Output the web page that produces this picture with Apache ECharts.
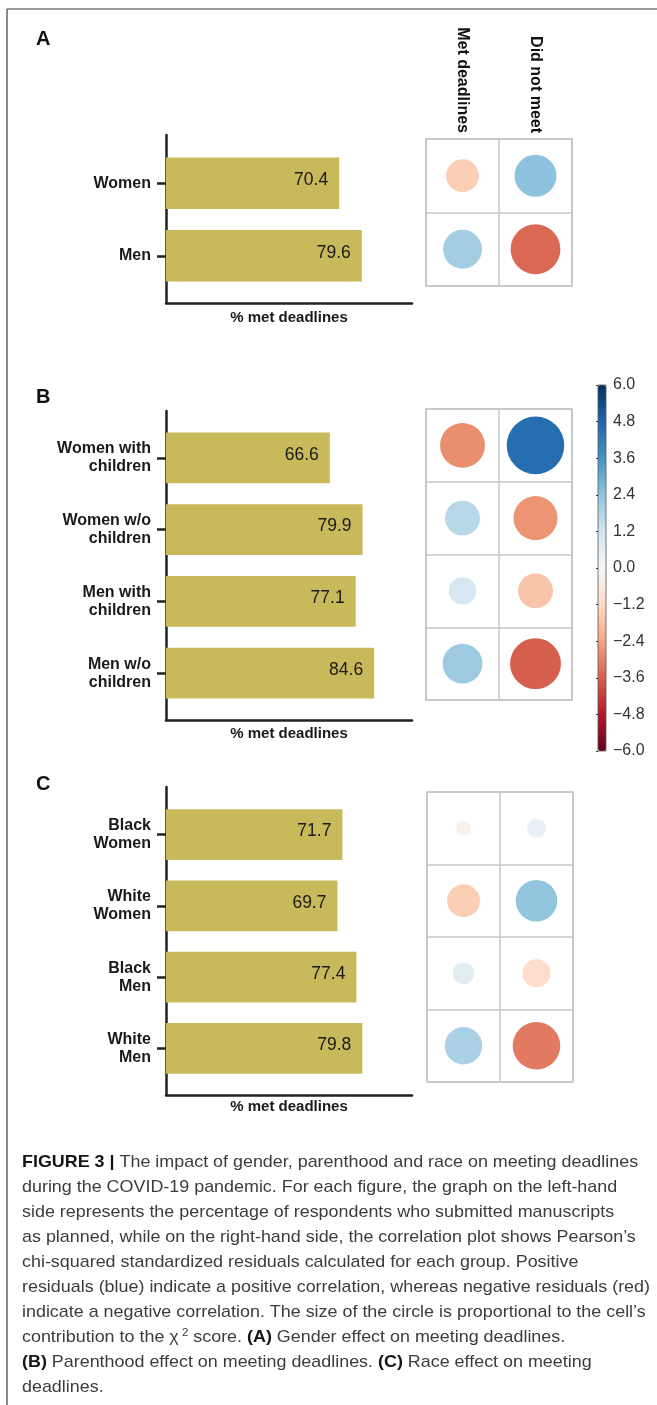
<!DOCTYPE html>
<html>
<head>
<meta charset="utf-8">
<script src="https://cdn.jsdelivr.net/npm/echarts@6.0.0/dist/echarts.min.js"></script>
<style>
html,body{margin:0;padding:0;background:#fff;}
#chart{width:657px;height:1405px;}
</style>
</head>
<body>
<div id="chart"></div>
<script>
// ---------------- data ----------------
const catsA = ['Women', 'Men'];
const valsA = [70.4, 79.6];
const catsB = ['Women with\nchildren', 'Women w/o\nchildren', 'Men with\nchildren', 'Men w/o\nchildren'];
const valsB = [66.6, 79.9, 77.1, 84.6];
const catsC = ['Black\nWomen', 'White\nWomen', 'Black\nMen', 'White\nMen'];
const valsC = [71.7, 69.7, 77.4, 79.8];
const corrCols = ['Met deadlines', 'Did not meet'];
// Pearson chi-squared standardized residuals: rows = groups, cols = [Met, Did not meet]
const residA = [[-1.5, 2.45], [2.1, -3.45]];
const residB = [[-2.8, 4.6], [1.7, -2.7], [1.05, -1.7], [2.2, -3.6]];
const residC = [[-0.3, 0.5], [-1.5, 2.4], [0.65, -1.1], [1.95, -3.15]];
const scaleMin = -6, scaleMax = 6, scaleStep = 1.2;
const xLabel = '% met deadlines';
const panelLetters = ['A', 'B', 'C'];
const captionLines = [
  [['FIGURE 3 |', 'b'], [' The impact of gender, parenthood and race on meeting deadlines', 'n']],
  [['during the COVID-19 pandemic. For each figure, the graph on the left-hand', 'n']],
  [['side represents the percentage of respondents who submitted manuscripts', 'n']],
  [['as planned, while on the right-hand side, the correlation plot shows Pearson\u2019s', 'n']],
  [['chi-squared standardized residuals calculated for each group. Positive', 'n']],
  [['residuals (blue) indicate a positive correlation, whereas negative residuals (red)', 'n']],
  [['indicate a negative correlation. The size of the circle is proportional to the cell\u2019s', 'n']],
  [['contribution to the \u03c7', 'n'], ['2', 'sup'], [' score. ', 'n'], ['(A)', 'b'], [' Gender effect on meeting deadlines.', 'n']],
  [['(B)', 'b'], [' Parenthood effect on meeting deadlines. ', 'n'], ['(C)', 'b'], [' Race effect on meeting', 'n']],
  [['deadlines.', 'n']]
];

// ---------------- layout / style ----------------
const FONT = '"Liberation Sans", Arial, Helvetica, sans-serif';
const RdBu = ['#67001f','#b2182b','#d6604d','#f4a582','#fddbc7','#f7f7f7','#d1e5f0','#92c5de','#4393c3','#2166ac','#053061'];
const BAR_COLOR = '#c8b95b';
const AX = '#222222';
const CELL = 73;
const panels = [
  { cats: catsA, vals: valsA, resid: residA, frameTop: 135, frameBottom: 303, barTop: 147, barH: 145,
    corr: { left: 426, top: 139, width: 146, height: 147 }, nameGap: 7, letterY: 39, colLabels: true },
  { cats: catsB, vals: valsB, resid: residB, frameTop: 411, frameBottom: 720, barTop: 422, barH: 287,
    corr: { left: 426, top: 409, width: 146, height: 291 }, nameGap: 6, letterY: 397, colLabels: false },
  { cats: catsC, vals: valsC, resid: residC, frameTop: 787, frameBottom: 1095, barTop: 799, barH: 285,
    corr: { left: 427, top: 792, width: 146, height: 290 }, nameGap: 4, letterY: 784, colLabels: false }
];
const BAR_LEFT = 166, BAR_W = 246;

const grid = [], xAxis = [], yAxis = [], series = [], graphic = [];
const scatterIdx = [];

panels.forEach((p, i) => {
  const gF = grid.length;
  grid.push({ left: BAR_LEFT, width: BAR_W, top: p.frameTop, height: p.frameBottom - p.frameTop });
  xAxis.push({ gridIndex: gF, type: 'value', min: 0, max: 100,
    axisLine: { show: true, lineStyle: { color: AX, width: 2.5 } },
    axisTick: { show: false }, axisLabel: { show: false }, splitLine: { show: false },
    name: xLabel, nameLocation: 'middle', nameGap: p.nameGap,
    nameTextStyle: { fontFamily: FONT, fontWeight: 'bold', fontSize: 15, color: '#1a1a1a', verticalAlign: 'top' } });
  yAxis.push({ gridIndex: gF, type: 'value', min: 0, max: 1,
    axisLine: { show: true, lineStyle: { color: AX, width: 2.5 } },
    axisTick: { show: false }, axisLabel: { show: false }, splitLine: { show: false } });

  const gB = grid.length;
  grid.push({ left: BAR_LEFT, width: BAR_W, top: p.barTop, height: p.barH });
  xAxis.push({ gridIndex: gB, type: 'value', min: 0, max: 100, show: false });
  yAxis.push({ gridIndex: gB, type: 'category', data: p.cats, inverse: true,
    axisLine: { show: false },
    axisTick: { show: true, alignWithLabel: true, length: 9, lineStyle: { color: AX, width: 2.5 } },
    axisLabel: { fontFamily: FONT, fontWeight: 'bold', fontSize: 16, lineHeight: 18, color: '#1a1a1a', margin: 15, align: 'right', interval: 0 },
    splitLine: { show: false } });
  series.push({ type: 'bar', xAxisIndex: gB, yAxisIndex: gB, data: p.vals, barWidth: '71%',
    itemStyle: { color: BAR_COLOR }, silent: true,
    label: { show: true, position: 'insideRight', distance: 11, offset: [0, -3],
      fontFamily: FONT, fontSize: 17.5, color: '#1a1a1a',
      formatter: (d) => d.value.toFixed(1) } });

  const gC = grid.length;
  grid.push(Object.assign({ show: true, borderColor: '#c6c6c6', borderWidth: 1.5, backgroundColor: 'transparent' }, p.corr));
  xAxis.push({ gridIndex: gC, type: 'category', data: corrCols, position: 'top',
    axisLine: { show: false }, axisTick: { show: false },
    axisLabel: { show: p.colLabels, rotate: 90, interval: 0, margin: 6,
      fontFamily: FONT, fontWeight: 'bold', fontSize: 16, color: '#111' },
    splitLine: { show: true, interval: 0, lineStyle: { color: '#c6c6c6', width: 1.5 } } });
  yAxis.push({ gridIndex: gC, type: 'category', data: p.cats, inverse: true,
    axisLine: { show: false }, axisTick: { show: false }, axisLabel: { show: false },
    splitLine: { show: true, interval: 0, lineStyle: { color: '#c6c6c6', width: 1.5 } } });
  const sdata = [];
  p.resid.forEach((row, r) => row.forEach((v, c) => sdata.push([c, r, v])));
  scatterIdx.push(series.length);
  series.push({ type: 'scatter', xAxisIndex: gC, yAxisIndex: gC, data: sdata, silent: true,
    symbol: 'circle',
    symbolSize: (d) => CELL * 0.9 * Math.sqrt(Math.abs(d[2]) / scaleMax),
    itemStyle: { opacity: 1 } });

  graphic.push({ type: 'text', x: 36, y: p.letterY,
    style: { text: panelLetters[i], font: 'bold 20px ' + FONT, fill: '#111', verticalAlign: 'middle', align: 'left' } });
});

// colorbar tick axis
const gCB = grid.length;
grid.push({ left: 598, width: 8, top: 385, height: 366, show: true, borderColor: '#555', borderWidth: 0.8, backgroundColor: 'transparent', z: 10 });
xAxis.push({ gridIndex: gCB, type: 'value', show: false, min: 0, max: 1 });
yAxis.push({ gridIndex: gCB, type: 'value', position: 'right', min: scaleMin, max: scaleMax, interval: scaleStep,
  axisLine: { show: false },
  axisTick: { show: true, inside: true, length: 2, lineStyle: { color: '#333', width: 1 } },
  axisLabel: { margin: 7, fontFamily: FONT, fontSize: 16, color: '#333',
    formatter: (v) => Math.abs(v) < 1e-9 ? '0.0' : (v < 0 ? '\u2212' : '') + Math.abs(v).toFixed(1) },
  splitLine: { show: false } });

// frame
graphic.push({ type: 'line', shape: { x1: 7, y1: 9, x2: 657, y2: 9 }, style: { stroke: '#3a3a3a', lineWidth: 1.2 } });
graphic.push({ type: 'line', shape: { x1: 7, y1: 9, x2: 7, y2: 1405 }, style: { stroke: '#3a3a3a', lineWidth: 1.2 } });

// caption
const CAP_SIZE = 17;
const capStyles = {
  n: { font: CAP_SIZE + 'px ' + FONT },
  b: { font: 'bold ' + CAP_SIZE + 'px ' + FONT },
  sup: { font: '11px ' + FONT }
};
const mctx = document.createElement('canvas').getContext('2d');
function lineWidth(segs) {
  let w = 0;
  segs.forEach(([t, s]) => { mctx.font = capStyles[s].font; w += mctx.measureText(t).width + (s === 'sup' ? 3 : 0); });
  return w;
}
const maxCapW = Math.max.apply(null, captionLines.map(lineWidth));
const capScale = 628 / maxCapW;
captionLines.forEach((segs, i) => {
  graphic.push({ type: 'text', x: 22, y: 1162 + 25 * i, scaleX: capScale,
    style: {
      text: segs.map(([t, s]) => '{' + s + '|' + t + '}').join(''),
      verticalAlign: 'middle', align: 'left',
      rich: {
        n: { fontFamily: FONT, fontSize: CAP_SIZE, fill: '#3c3c3c', color: '#3c3c3c', lineHeight: 20 },
        b: { fontFamily: FONT, fontSize: CAP_SIZE, fontWeight: 'bold', fill: '#151515', color: '#151515', lineHeight: 20 },
        sup: { fontFamily: FONT, fontSize: 11, fill: '#3c3c3c', color: '#3c3c3c', lineHeight: 12, verticalAlign: 'top', padding: [0, 0, 0, 3] }
      }
    } });
});

const chart = echarts.init(document.getElementById('chart'), null, { renderer: 'canvas' });
chart.setOption({
  animation: false,
  backgroundColor: '#fff',
  grid, xAxis, yAxis, series, graphic,
  visualMap: {
    type: 'continuous', min: scaleMin, max: scaleMax, seriesIndex: scatterIdx, dimension: 2,
    inRange: { color: RdBu }, left: 598, top: 385, itemWidth: 8, itemHeight: 366,
    calculable: false, padding: 0, orient: 'vertical', hoverLink: false
  }
});
</script>
</body>
</html>
